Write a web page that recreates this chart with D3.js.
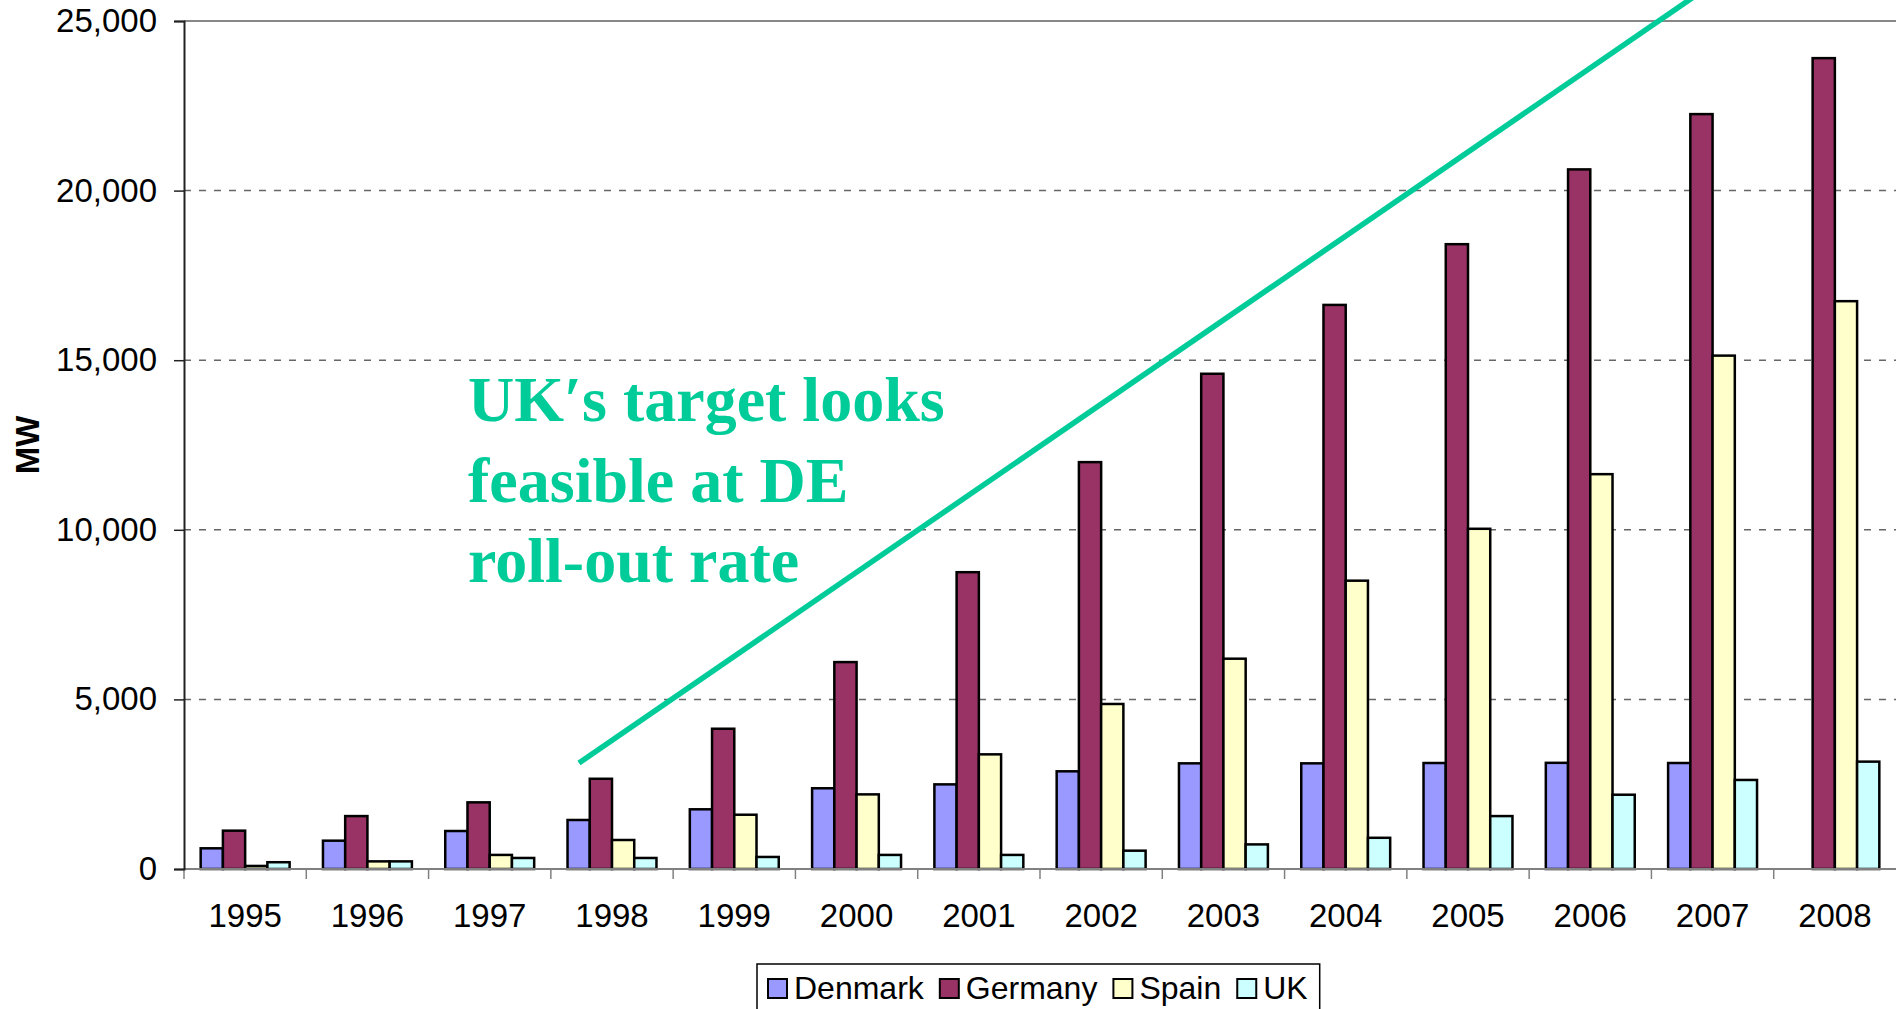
<!DOCTYPE html>
<html>
<head>
<meta charset="utf-8">
<script src="https://cdn.jsdelivr.net/npm/d3@7"></script>
<style>
  html, body { margin: 0; padding: 0; background: #fff; }
  svg { display: block; }
  text { font-family: "Liberation Sans", Arial, sans-serif; }
</style>
</head>
<body>
<svg id="chart" width="1897" height="1009"></svg>
<script>
// Installed wind capacity (MW) by country, 1995–2008
const years   = [1995, 1996, 1997, 1998, 1999, 2000, 2001, 2002, 2003, 2004, 2005, 2006, 2007, 2008];
const denmark = [610, 835, 1120, 1445, 1760, 2380, 2495, 2880, 3115, 3115, 3125, 3130, 3125, null];
const germany = [1130, 1560, 1965, 2660, 4135, 6100, 8750, 11995, 14600, 16630, 18420, 20625, 22255, 23905];
const spain   = [90, 225, 415, 855, 1600, 2200, 3380, 4865, 6200, 8500, 10030, 11640, 15135, 16740];
const uk      = [200, 225, 325, 325, 355, 415, 415, 540, 725, 920, 1560, 2190, 2625, 3165];

const seriesNames  = ["Denmark", "Germany", "Spain", "UK"];
const seriesValues = [denmark, germany, spain, uk];
const seriesColors = ["#9999FF", "#993366", "#FFFFCC", "#CCFFFF"];

const yTicks = [0, 5000, 10000, 15000, 20000, 25000];

// Trend annotation: German roll-out rate extrapolated (category position, MW)
const trendPos = [3.23, 12.45];
const trendMW  = [3125, 25970];
const noteLines = ["UK\u2032s target looks", "feasible at DE", "roll-out rate"];

const svg = d3.select("#chart");
const margin = { left: 184, top: 21, right: 1, bottom: 140 };
const W = 1897, H = 1009;
const plotW = W - margin.left - margin.right;
const plotH = H - margin.top - margin.bottom;

const g = svg.append("g").attr("transform", `translate(${margin.left},${margin.top})`);

const x0 = d3.scaleBand().domain(years).range([0, plotW]).padding(0);
const groupW = x0.bandwidth() * 4 / 5.5;
const x1 = d3.scaleBand().domain(seriesNames).range([0, groupW]).padding(0);
const y = d3.scaleLinear().domain([0, 25000]).range([plotH, 0]);
const xPos = d3.scaleLinear().domain([0, years.length]).range([0, plotW]);

// Dashed gridlines
g.append("g")
  .selectAll("line")
  .data(yTicks.filter(v => v > 0 && v < 25000))
  .join("line")
  .attr("x1", 0).attr("x2", plotW)
  .attr("y1", d => y(d)).attr("y2", d => y(d))
  .attr("stroke", "#666").attr("stroke-width", 1.5)
  .attr("stroke-dasharray", "7,8");

// Plot area top border
g.append("line")
  .attr("x1", 0).attr("x2", plotW)
  .attr("y1", y(25000)).attr("y2", y(25000))
  .attr("stroke", "#888").attr("stroke-width", 2);

// Bars
const rows = years.map((yr, i) => ({
  year: yr,
  vals: seriesNames.map((s, k) => ({ name: s, v: seriesValues[k][i], color: seriesColors[k] }))
}));
const groups = g.append("g").selectAll("g")
  .data(rows)
  .join("g")
  .attr("transform", d => `translate(${x0(d.year) + (x0.bandwidth() - groupW) / 2},0)`);
groups.selectAll("rect")
  .data(d => d.vals.filter(v => v.v != null))
  .join("rect")
  .attr("x", d => x1(d.name))
  .attr("width", x1.bandwidth())
  .attr("y", d => y(d.v))
  .attr("height", d => y(0) - y(d.v))
  .attr("fill", d => d.color)
  .attr("stroke", "#000")
  .attr("stroke-width", 2.5);

// X axis line and category boundary ticks
g.append("line")
  .attr("x1", 0).attr("x2", plotW)
  .attr("y1", y(0)).attr("y2", y(0))
  .attr("stroke", "#808080").attr("stroke-width", 2);
g.append("g").selectAll("line")
  .data(years)
  .join("line")
  .attr("x1", d => x0(d)).attr("x2", d => x0(d))
  .attr("y1", y(0)).attr("y2", y(0) + 10)
  .attr("stroke", "#808080").attr("stroke-width", 1.5);
g.append("g").selectAll("text")
  .data(years)
  .join("text")
  .attr("x", d => x0(d) + x0.bandwidth() / 2)
  .attr("y", y(0) + 58)
  .attr("text-anchor", "middle")
  .attr("font-size", 33)
  .attr("fill", "#000")
  .text(d => d);

// Y axis
const yAxis = g.append("g")
  .call(d3.axisLeft(y).tickValues(yTicks).tickFormat(d3.format(",")).tickSize(10).tickPadding(17));
yAxis.select(".domain").attr("stroke", "#222").attr("stroke-width", 2);
yAxis.selectAll(".tick line").attr("stroke", "#222").attr("stroke-width", 1.5);
yAxis.selectAll(".tick text")
  .attr("font-size", 33)
  .attr("font-family", "'Liberation Sans', Arial, sans-serif")
  .attr("fill", "#000");

// Y axis title
svg.append("text")
  .attr("transform", `translate(39,${margin.top + plotH * 0.5}) rotate(-90)`)
  .attr("text-anchor", "middle")
  .attr("font-size", 33)
  .attr("font-weight", "bold")
  .text("MW");

// Trend line
g.append("line")
  .attr("x1", xPos(trendPos[0])).attr("y1", y(trendMW[0]))
  .attr("x2", xPos(trendPos[1])).attr("y2", y(trendMW[1]))
  .attr("stroke", "#00CC99").attr("stroke-width", 5.5);

// Annotation
const note = svg.append("text")
  .attr("x", 468).attr("y", 421)
  .attr("fill", "#00CC99")
  .attr("font-size", 64)
  .attr("font-weight", "bold")
  .style("font-family", "'Liberation Serif', 'Times New Roman', serif");
note.selectAll("tspan")
  .data(noteLines)
  .join("tspan")
  .attr("x", 468)
  .attr("dy", (d, i) => i === 0 ? 0 : 80.5)
  .text(d => d);

// Legend
const legend = svg.append("g").attr("transform", "translate(757,964)");
const legendBox = legend.append("rect")
  .attr("x", 0).attr("y", 0).attr("height", 70)
  .attr("fill", "#fff").attr("stroke", "#000").attr("stroke-width", 1.5);
let cx = 11;
seriesNames.forEach((name, k) => {
  legend.append("rect")
    .attr("x", cx).attr("y", 15).attr("width", 19).attr("height", 19)
    .attr("fill", seriesColors[k]).attr("stroke", "#000").attr("stroke-width", 2);
  const t = legend.append("text")
    .attr("x", cx + 26).attr("y", 35)
    .attr("font-size", 32)
    .text(name);
  cx += 26 + t.node().getComputedTextLength() + 16;
});
legendBox.attr("width", cx - 4);
</script>
</body>
</html>
